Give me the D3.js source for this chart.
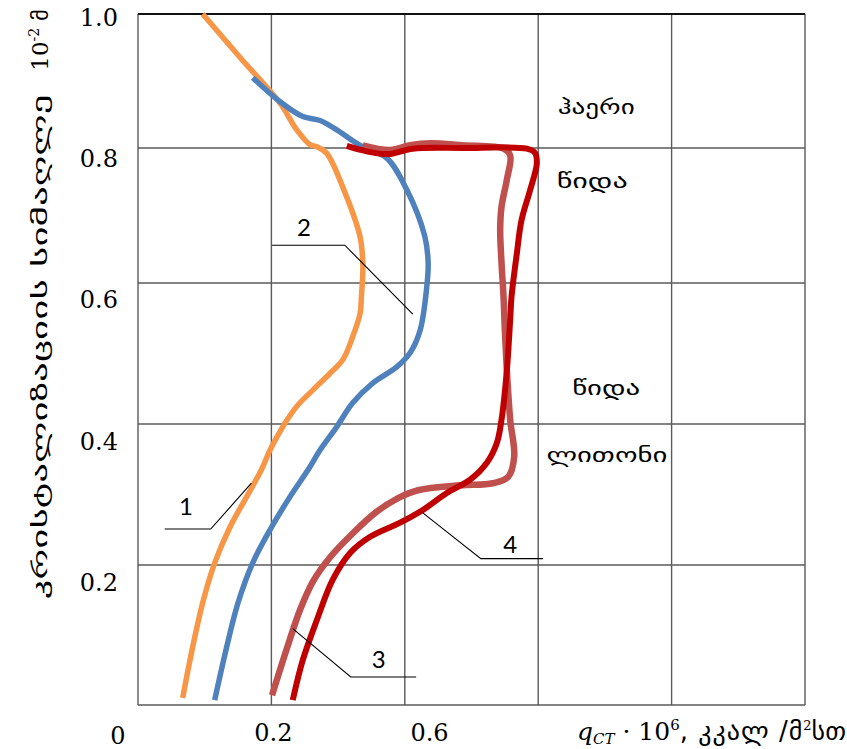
<!DOCTYPE html>
<html><head><meta charset="utf-8">
<script src="https://cdn.jsdelivr.net/npm/d3@7"></script>
<style>body{margin:0;background:#fff;overflow:hidden}</style>
</head><body>
<svg id="chart" width="847" height="749"></svg>
<script>
// ---------- data ----------
const gridX = [0, 0.2, 0.4, 0.6, 0.8, 1.0];
const gridY = [0, 0.2, 0.4, 0.6, 0.8, 1.0];
const yTickLabels = ["0.2", "0.4", "0.6", "0.8", "1.0"];
const yTickValues = [0.2, 0.4, 0.6, 0.8, 1.0];
const xTickLabels = ["0", "0.2", "0.6"];
const xTickValues = [-0.03, 0.203, 0.437];

const curve1 = [[0.097,1.0],[0.154,0.934],[0.213,0.867],[0.238,0.827],[0.258,0.805],[0.268,0.802],[0.283,0.792],[0.307,0.742],[0.333,0.668],[0.337,0.630],[0.337,0.615],[0.335,0.581],[0.333,0.557],[0.322,0.524],[0.307,0.491],[0.288,0.472],[0.262,0.448],[0.238,0.425],[0.217,0.396],[0.198,0.363],[0.185,0.335],[0.163,0.297],[0.138,0.254],[0.115,0.203],[0.097,0.146],[0.082,0.083],[0.067,0.010]];
const curve2 = [[0.172,0.905],[0.213,0.869],[0.247,0.847],[0.273,0.841],[0.298,0.827],[0.333,0.804],[0.373,0.785],[0.403,0.738],[0.430,0.669],[0.435,0.630],[0.433,0.595],[0.423,0.533],[0.408,0.501],[0.388,0.481],[0.352,0.458],[0.322,0.430],[0.298,0.396],[0.273,0.363],[0.255,0.335],[0.228,0.297],[0.198,0.250],[0.172,0.203],[0.150,0.146],[0.133,0.083],[0.115,0.007]];
const curve3 = [[0.337,0.804],[0.378,0.797],[0.408,0.804],[0.438,0.807],[0.487,0.804],[0.548,0.799],[0.558,0.789],[0.553,0.753],[0.545,0.713],[0.543,0.679],[0.545,0.630],[0.548,0.581],[0.550,0.533],[0.553,0.476],[0.558,0.406],[0.564,0.354],[0.555,0.325],[0.532,0.316],[0.483,0.313],[0.420,0.306],[0.390,0.295],[0.357,0.275],[0.321,0.244],[0.288,0.211],[0.262,0.176],[0.243,0.136],[0.225,0.086],[0.201,0.014]];
const curve4 = [[0.313,0.803],[0.343,0.795],[0.375,0.791],[0.412,0.799],[0.487,0.800],[0.583,0.799],[0.595,0.793],[0.598,0.778],[0.588,0.738],[0.575,0.693],[0.568,0.644],[0.560,0.580],[0.558,0.548],[0.553,0.476],[0.545,0.406],[0.538,0.373],[0.523,0.345],[0.498,0.321],[0.463,0.302],[0.427,0.278],[0.393,0.260],[0.348,0.240],[0.318,0.217],[0.292,0.179],[0.268,0.121],[0.247,0.064],[0.232,0.007]];

const curveNames = ["1", "2", "3", "4"];
const leader1 = [[0.170,0.316],[0.109,0.251],[0.040,0.251]];
const leader2 = [[0.201,0.656],[0.310,0.656],[0.412,0.556]];
const leader3 = [[0.232,0.109],[0.319,0.040],[0.417,0.040]];
const leader4 = [[0.427,0.274],[0.514,0.209],[0.607,0.209]];
const namePos = [[0.072,0.285],[0.249,0.684],[0.361,0.067],[0.558,0.231]];

const zoneLabels = ["ჰაერი", "წიდა", "წიდა", "ლითონი"];
const zonePos = [[0.687,0.851],[0.681,0.741],[0.702,0.441],[0.703,0.346]];
const zoneWidth = [77, 71, 68, 121];

const yTitle = "კრისტალიზაციის სიმაღლე";
const yUnit = ["10", "-2", " მ"];
const xTitle = ["q", "CT", " · 10", "6", ", კკალ /მ", "2", "სთ"];

// ---------- drawing ----------
const svg = d3.select("#chart");
const x = d3.scaleLinear().domain([0, 1]).range([138, 805]);
const y = d3.scaleLinear().domain(gridY).range([705, 565, 424, 283, 148, 14]);
const yLab = d3.scaleLinear().domain([0, 1]).range([724, 18]);

const g = svg.append("g");
g.selectAll(".vx").data(gridX).join("line")
  .attr("x1", d => x(d)).attr("x2", d => x(d))
  .attr("y1", y(0)).attr("y2", y(1))
  .attr("stroke", "#5a5a5a").attr("stroke-width", 1.4);
g.selectAll(".hy").data(gridY).join("line")
  .attr("y1", d => y(d)).attr("y2", d => y(d))
  .attr("x1", x(0)).attr("x2", x(1))
  .attr("stroke", d => d === 1 ? "#111" : "#5a5a5a").attr("stroke-width", d => d === 1 ? 1.8 : 1.4);

const line = d3.line().x(d => x(d[0])).y(d => y(d[1])).curve(d3.curveCatmullRom.alpha(0.5));
const curves = [
  {d: curve1, c: "#F79646", w: 5.5},
  {d: curve2, c: "#4F81BD", w: 5.5},
  {d: curve3, c: "#C0504D", w: 6.5},
  {d: curve4, c: "#C00000", w: 6}
];
svg.selectAll(".crv").data(curves).join("path")
  .attr("d", d => line(d.d)).attr("fill", "none")
  .attr("stroke", d => d.c).attr("stroke-width", d => d.w)
  .attr("stroke-linejoin", "round");

const lline = d3.line().x(d => x(d[0])).y(d => y(d[1]));
svg.selectAll(".ld").data([leader1, leader2, leader3, leader4]).join("path")
  .attr("d", d => lline(d)).attr("fill", "none").attr("stroke", "#000").attr("stroke-width", 1.1);

svg.selectAll(".nm").data(curveNames).join("text")
  .attr("x", (d, i) => x(namePos[i][0])).attr("y", (d, i) => y(namePos[i][1]))
  .attr("text-anchor", "middle").attr("dominant-baseline", "central")
  .attr("font-family", "Lato, 'Open Sans', sans-serif").attr("font-size", 24)
  .text(d => d);

const zl = svg.selectAll(".zl").data(zoneLabels).join("text")
  .attr("x", (d, i) => x(zonePos[i][0])).attr("y", (d, i) => y(zonePos[i][1]))
  .attr("text-anchor", "middle")
  .attr("font-family", "'DejaVu Sans', sans-serif").attr("font-size", 20)
  .text(d => d);
zl.each(function(d, i) {
  this.setAttribute("textLength", zoneWidth[i]);
  this.setAttribute("lengthAdjust", "spacingAndGlyphs");
});

svg.selectAll(".yt").data(yTickLabels).join("text")
  .attr("x", 118).attr("y", (d, i) => yLab(yTickValues[i]))
  .attr("text-anchor", "end").attr("dominant-baseline", "central")
  .attr("font-family", "'DejaVu Serif', serif").attr("font-size", 24)
  .text(d => d);

svg.selectAll(".xt").data(xTickLabels).join("text")
  .attr("x", (d, i) => x(xTickValues[i])).attr("y", (d, i) => i === 0 ? 744 : 741)
  .attr("text-anchor", "middle")
  .attr("font-family", "'DejaVu Serif', serif").attr("font-size", 24)
  .text(d => d);

// y title
svg.append("text")
  .attr("transform", "translate(47,347) rotate(-90)")
  .attr("text-anchor", "middle")
  .attr("font-family", "'DejaVu Sans', sans-serif").attr("font-size", 20)
  .attr("textLength", 505).attr("lengthAdjust", "spacingAndGlyphs")
  .text(yTitle);
const yu = svg.append("text")
  .attr("transform", "translate(48,40) rotate(-90)")
  .attr("text-anchor", "middle")
  .attr("font-family", "'DejaVu Serif', serif").attr("font-size", 23);
yu.append("tspan").text(yUnit[0]);
yu.append("tspan").attr("font-size", 14).attr("dy", -9).text(yUnit[1]);
yu.append("tspan").attr("dy", 9).attr("font-family", "'DejaVu Sans', sans-serif").attr("font-size", 22).text(yUnit[2]);

// x title
const xt = svg.append("text").attr("x", 577).attr("y", 740)
  .attr("font-family", "'DejaVu Serif', serif").attr("font-size", 25);
xt.append("tspan").attr("font-style", "italic").text(xTitle[0]);
xt.append("tspan").attr("font-style", "italic").attr("font-size", 15).attr("dy", 4).text(xTitle[1]);
xt.append("tspan").attr("dy", -4).text(xTitle[2]);
xt.append("tspan").attr("font-size", 15).attr("dy", -10).text(xTitle[3]);
xt.append("tspan").attr("dy", 10).attr("font-family", "'DejaVu Sans', sans-serif").attr("font-size", 26).attr("letter-spacing", 1).text(xTitle[4]);
xt.append("tspan").attr("font-size", 13).attr("dy", -10).text(xTitle[5]);
xt.append("tspan").attr("dy", 10).attr("font-family", "'DejaVu Sans', sans-serif").attr("font-size", 26).text(xTitle[6]);
</script>
</body></html>
